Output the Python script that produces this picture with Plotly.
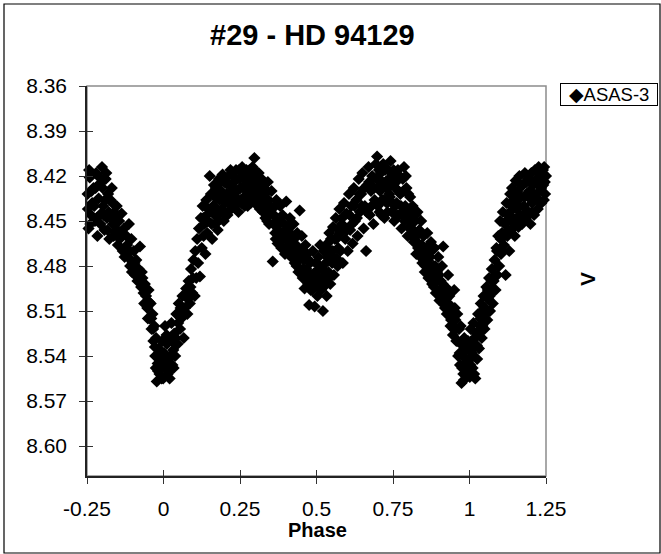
import plotly.graph_objects as go

# ---- data (phase, V magnitude) ----
phase = [
    -0.248, -0.245, -0.241, -0.237, -0.233, -0.229,
    -0.224, -0.220, -0.216, -0.212, -0.208, -0.204,
    -0.201, -0.197, -0.193, -0.189, -0.185, -0.181,
    -0.177, -0.173, -0.169, -0.165, -0.161, -0.157,
    -0.153, -0.149, -0.145, -0.141, -0.137, -0.133,
    -0.129, -0.125, -0.121, -0.117, -0.113, -0.109,
    -0.105, -0.101, -0.097, -0.093, -0.089, -0.085,
    -0.081, -0.077, -0.073, -0.069, -0.065, -0.061,
    -0.057, -0.053, -0.049, -0.045, -0.042, -0.039,
    -0.036, -0.033, -0.030, -0.027, -0.024, -0.022,
    -0.019, -0.016, -0.013, -0.010, -0.007, -0.004,
    -0.001, 0.002, 0.005, 0.008, 0.011, 0.014,
    0.017, 0.020, 0.023, 0.026, 0.029, 0.032,
    0.035, 0.038, 0.042, 0.046, 0.050, 0.054,
    0.058, 0.062, 0.066, 0.070, 0.074, 0.078,
    0.082, 0.086, 0.090, 0.094, 0.098, 0.102,
    0.104, 0.107, 0.110, 0.113, 0.116, 0.119,
    0.122, 0.125, 0.128, 0.131, 0.134, 0.137,
    0.140, 0.143, 0.147, 0.151, 0.155, 0.159,
    0.162, 0.165, 0.169, 0.173, 0.177, 0.181,
    0.185, 0.189, 0.193, 0.197, 0.201, 0.205,
    0.209, 0.213, 0.217, 0.221, 0.225, 0.229,
    0.233, 0.237, 0.241, 0.245, 0.249, 0.253,
    0.257, 0.261, 0.265, 0.269, 0.273, 0.277,
    0.281, 0.285, 0.289, 0.293, 0.297, 0.301,
    0.305, 0.309, 0.313, 0.317, 0.321, 0.325,
    0.329, 0.333, 0.337, 0.341, 0.345, 0.349,
    0.353, 0.357, 0.361, 0.365, 0.369, 0.373,
    0.377, 0.381, 0.385, 0.389, 0.393, 0.397,
    0.401, 0.405, 0.409, 0.413, 0.417, 0.421,
    0.425, 0.429, 0.433, 0.437, 0.441, 0.445,
    0.449, 0.452, 0.455, 0.458, 0.461, 0.464,
    0.467, 0.470, 0.473, 0.476, 0.479, 0.482,
    0.485, 0.488, 0.491, 0.494, 0.497, 0.500,
    0.503, 0.506, 0.509, 0.512, 0.515, 0.518,
    0.521, 0.524, 0.527, 0.530, 0.533, 0.536,
    0.539, 0.542, 0.545, 0.548, 0.551, 0.554,
    0.557, 0.560, 0.563, 0.566, 0.569, 0.572,
    0.575, 0.578, 0.582, 0.586, 0.590, 0.594,
    0.598, 0.602, 0.606, 0.610, 0.614, 0.618,
    0.622, 0.626, 0.630, 0.634, 0.638, 0.642,
    0.646, 0.650, 0.654, 0.658, 0.662, 0.666,
    0.670, 0.674, 0.678, 0.682, 0.686, 0.690,
    0.694, 0.698, 0.702, 0.706, 0.710, 0.714,
    0.718, 0.722, 0.726, 0.730, 0.734, 0.738,
    0.742, 0.746, 0.750, 0.754, 0.758, 0.762,
    0.766, 0.770, 0.774, 0.778, 0.782, 0.786,
    0.790, 0.794, 0.798, 0.802, 0.806, 0.810,
    0.814, 0.818, 0.822, 0.826, 0.830, 0.834,
    0.838, 0.842, 0.846, 0.850, 0.854, 0.858,
    0.862, 0.866, 0.870, 0.874, 0.878, 0.882,
    0.886, 0.890, 0.894, 0.898, 0.902, 0.906,
    0.910, 0.914, 0.918, 0.922, 0.926, 0.930,
    0.934, 0.938, 0.942, 0.946, 0.950, 0.954,
    0.957, 0.960, 0.963, 0.966, 0.969, 0.972,
    0.974, 0.977, 0.980, 0.983, 0.986, 0.989,
    0.992, 0.995, 0.998, 1.001, 1.004, 1.007,
    1.010, 1.013, 1.016, 1.019, 1.022, 1.025,
    1.028, 1.031, 1.034, 1.037, 1.040, 1.043,
    1.046, 1.049, 1.052, 1.055, 1.058, 1.061,
    1.064, 1.067, 1.070, 1.073, 1.076, 1.079,
    1.082, 1.085, 1.088, 1.091, 1.094, 1.097,
    1.100, 1.103, 1.106, 1.109, 1.112, 1.118,
    1.115, 1.121, 1.124, 1.127, 1.130, 1.133,
    1.136, 1.139, 1.142, 1.145, 1.148, 1.151,
    1.154, 1.157, 1.160, 1.163, 1.166, 1.169,
    1.172, 1.175, 1.178, 1.181, 1.184, 1.187,
    1.190, 1.193, 1.196, 1.199, 1.202, 1.205,
    1.208, 1.211, 1.214, 1.217, 1.220, 1.223,
    1.226, 1.229, 1.232, 1.235, 1.238, 1.241,
    1.244, 1.247, 1.250, 1.246,
]

v_mag = [
    8.432, 8.455, 8.421, 8.446, 8.438, 8.428,
    8.450, 8.418, 8.460, 8.435, 8.425, 8.445,
    8.414, 8.440, 8.456, 8.422, 8.448, 8.432,
    8.462, 8.436, 8.428, 8.452, 8.444, 8.458,
    8.440, 8.466, 8.450, 8.458, 8.445, 8.470,
    8.455, 8.468, 8.460, 8.474, 8.452, 8.480,
    8.462, 8.478, 8.470, 8.486, 8.476, 8.490,
    8.482, 8.467, 8.494, 8.488, 8.498, 8.492,
    8.500, 8.508, 8.496, 8.515, 8.505, 8.522,
    8.512, 8.530, 8.520, 8.540, 8.528, 8.557,
    8.545, 8.535, 8.552, 8.540, 8.548, 8.530,
    8.555, 8.538, 8.520, 8.548, 8.532, 8.552,
    8.542, 8.555, 8.528, 8.518, 8.546, 8.536,
    8.525, 8.540, 8.512, 8.532, 8.505, 8.522,
    8.515, 8.500, 8.528, 8.508, 8.495, 8.512,
    8.490, 8.505, 8.482, 8.498, 8.476, 8.500,
    8.470, 8.488, 8.462, 8.478, 8.455, 8.487,
    8.448, 8.468, 8.440, 8.460, 8.452, 8.472,
    8.436, 8.458, 8.445, 8.420, 8.432, 8.462,
    8.440, 8.426, 8.452, 8.435, 8.456, 8.422,
    8.445, 8.430, 8.419, 8.450, 8.438, 8.425,
    8.446, 8.420, 8.432, 8.442, 8.418, 8.428,
    8.440, 8.416, 8.430, 8.444, 8.422, 8.436,
    8.414, 8.428, 8.440, 8.420, 8.434, 8.424,
    8.416, 8.438, 8.428, 8.420, 8.408, 8.432,
    8.418, 8.440, 8.426, 8.434, 8.422, 8.444,
    8.428, 8.448, 8.436, 8.424, 8.452, 8.440,
    8.430, 8.477, 8.446, 8.458, 8.436, 8.465,
    8.452, 8.440, 8.468, 8.446, 8.460, 8.472,
    8.437, 8.455, 8.466, 8.448, 8.474, 8.460,
    8.452, 8.478, 8.466, 8.458, 8.484, 8.443,
    8.470, 8.460, 8.488, 8.476, 8.495, 8.466,
    8.482, 8.472, 8.492, 8.506, 8.478, 8.488,
    8.496, 8.470, 8.485, 8.507, 8.478, 8.492,
    8.500, 8.474, 8.488, 8.466, 8.496, 8.482,
    8.510, 8.470, 8.490, 8.478, 8.500, 8.465,
    8.484, 8.458, 8.492, 8.470, 8.478, 8.454,
    8.486, 8.462, 8.448, 8.475, 8.480, 8.456,
    8.442, 8.470, 8.452, 8.478, 8.438, 8.462,
    8.445, 8.470, 8.432, 8.456, 8.440, 8.465,
    8.428, 8.450, 8.436, 8.460, 8.422, 8.444,
    8.432, 8.418, 8.455, 8.440, 8.470, 8.426,
    8.414, 8.446, 8.430, 8.420, 8.452, 8.436,
    8.412, 8.407, 8.428, 8.444, 8.418, 8.436,
    8.412, 8.448, 8.424, 8.438, 8.416, 8.432,
    8.410, 8.444, 8.420, 8.450, 8.428, 8.438,
    8.416, 8.446, 8.432, 8.455, 8.422, 8.414,
    8.440, 8.428, 8.460, 8.448, 8.434, 8.456,
    8.440, 8.464, 8.450, 8.472, 8.444, 8.458,
    8.468, 8.450, 8.478, 8.460, 8.484, 8.470,
    8.458, 8.488, 8.474, 8.464, 8.492, 8.480,
    8.468, 8.498, 8.484, 8.474, 8.503, 8.490,
    8.480, 8.467, 8.506, 8.494, 8.512, 8.486,
    8.500, 8.520, 8.508, 8.526, 8.496, 8.516,
    8.530, 8.512, 8.540, 8.522, 8.546, 8.532,
    8.558, 8.540, 8.552, 8.528, 8.545, 8.536,
    8.550, 8.530, 8.542, 8.554, 8.522, 8.538,
    8.548, 8.518, 8.534, 8.555, 8.525, 8.542,
    8.512, 8.535, 8.520, 8.505, 8.528, 8.510,
    8.500, 8.522, 8.508, 8.494, 8.516, 8.502,
    8.488, 8.510, 8.496, 8.482, 8.505, 8.490,
    8.476, 8.496, 8.468, 8.486, 8.460, 8.480,
    8.450, 8.472, 8.458, 8.444, 8.466, 8.486,
    8.452, 8.438, 8.460, 8.446, 8.470, 8.432,
    8.456, 8.428, 8.448, 8.436, 8.460, 8.423,
    8.442, 8.430, 8.454, 8.420, 8.446, 8.434,
    8.452, 8.426, 8.440, 8.418, 8.448, 8.432,
    8.422, 8.444, 8.430, 8.452, 8.418, 8.438,
    8.426, 8.446, 8.416, 8.434, 8.422, 8.442,
    8.414, 8.430, 8.420, 8.438, 8.418, 8.426,
    8.414, 8.432, 8.420, 8.424,
]

# second batch of observations read from the denser parts of the cloud
phase_b = [
    -0.247, -0.243, -0.239, -0.235, -0.226, -0.222, -0.218, -0.214,
    -0.206, -0.199, -0.195, -0.191, -0.187, -0.183, -0.179, -0.171,
    -0.167, -0.163, -0.159, -0.151, -0.143, -0.135, -0.127, -0.119,
    -0.111, -0.103, -0.095, -0.087, -0.079, -0.071, -0.063, -0.059,
    -0.051, -0.047, -0.040, -0.034, -0.028, -0.025, -0.018, -0.012,
    -0.006, -0.003, 0.004, 0.010, 0.016, 0.022, 0.028, 0.033,
    0.040, 0.048, 0.056, 0.064, 0.072, 0.080, 0.088, 0.096,
    0.130, 0.136, 0.145, 0.153, 0.157, 0.163, 0.167, 0.171,
    0.175, 0.179, 0.183, 0.187, 0.191, 0.195, 0.199, 0.203,
    0.207, 0.211, 0.215, 0.219, 0.223, 0.227, 0.231, 0.235,
    0.239, 0.243, 0.247, 0.251, 0.255, 0.259, 0.263, 0.267,
    0.271, 0.275, 0.279, 0.283, 0.287, 0.291, 0.295, 0.299,
    0.303, 0.307, 0.311, 0.315, 0.319, 0.323, 0.327, 0.331,
    0.335, 0.339, 0.343, 0.347, 0.355, 0.359, 0.363, 0.367,
    0.371, 0.375, 0.379, 0.383, 0.387, 0.391, 0.395, 0.399,
    0.403, 0.407, 0.411, 0.415, 0.419, 0.423, 0.427, 0.431,
    0.435, 0.439, 0.443, 0.447, 0.451, 0.457, 0.463, 0.469,
    0.475, 0.481, 0.487, 0.493, 0.499, 0.505, 0.511, 0.517,
    0.523, 0.529, 0.535, 0.541, 0.547, 0.553, 0.559, 0.565,
    0.571, 0.577, 0.584, 0.592, 0.600, 0.608, 0.616, 0.624,
    0.632, 0.640, 0.648, 0.656, 0.664, 0.672, 0.680, 0.688,
    0.696, 0.700, 0.704, 0.708, 0.712, 0.716, 0.720, 0.724,
    0.728, 0.732, 0.736, 0.740, 0.744, 0.748, 0.752, 0.756,
    0.760, 0.764, 0.768, 0.772, 0.776, 0.780, 0.784, 0.788,
    0.792, 0.796, 0.800, 0.804, 0.808, 0.812, 0.816, 0.820,
    0.824, 0.828, 0.832, 0.836, 0.840, 0.844, 0.848, 0.852,
    0.856, 0.860, 0.864, 0.868, 0.872, 0.876, 0.880, 0.884,
    0.888, 0.892, 0.896, 0.900, 0.904, 0.908, 0.912, 0.916,
    0.920, 0.924, 0.928, 0.932, 0.936, 0.940, 0.944, 0.948,
    0.952, 0.956, 0.962, 0.968, 0.971, 0.976, 0.979, 0.982,
    0.985, 0.988, 0.994, 0.997, 1.000, 1.003, 1.006, 1.012,
    1.015, 1.018, 1.024, 1.030, 1.036, 1.042, 1.048, 1.054,
    1.060, 1.066, 1.072, 1.078, 1.084, 1.090, 1.096, 1.102,
    1.108, 1.114, 1.120, 1.126, 1.132, 1.138, 1.144, 1.150,
    1.156, 1.162, 1.168, 1.174, 1.180, 1.186, 1.192, 1.198,
    1.204, 1.210, 1.216, 1.222, 1.228, 1.234, 1.240, 1.243,
]

v_mag_b = [
    8.442, 8.416, 8.452, 8.430, 8.440, 8.428, 8.448, 8.420,
    8.452, 8.428, 8.446, 8.436, 8.418, 8.456, 8.444, 8.448,
    8.438, 8.460, 8.448, 8.456, 8.462, 8.458, 8.474, 8.466,
    8.470, 8.484, 8.478, 8.482, 8.490, 8.484, 8.505, 8.496,
    8.515, 8.504, 8.515, 8.522, 8.534, 8.548, 8.550, 8.545,
    8.555, 8.542, 8.545, 8.526, 8.550, 8.540, 8.530, 8.548,
    8.528, 8.518, 8.508, 8.512, 8.500, 8.502, 8.494, 8.488,
    8.448, 8.440, 8.450, 8.442, 8.452, 8.432, 8.446, 8.428,
    8.442, 8.450, 8.436, 8.424, 8.442, 8.432, 8.424, 8.446,
    8.432, 8.438, 8.426, 8.416, 8.436, 8.440, 8.424, 8.434,
    8.422, 8.438, 8.416, 8.428, 8.438, 8.420, 8.434, 8.426,
    8.416, 8.440, 8.430, 8.422, 8.434, 8.414, 8.426, 8.438,
    8.424, 8.430, 8.418, 8.442, 8.428, 8.436, 8.440, 8.432,
    8.442, 8.450, 8.436, 8.446, 8.442, 8.452, 8.440, 8.462,
    8.450, 8.456, 8.464, 8.450, 8.458, 8.468, 8.452, 8.462,
    8.470, 8.456, 8.462, 8.452, 8.468, 8.474, 8.462, 8.472,
    8.480, 8.468, 8.476, 8.482, 8.474, 8.482, 8.488, 8.484,
    8.476, 8.496, 8.488, 8.494, 8.484, 8.492, 8.480, 8.488,
    8.494, 8.484, 8.474, 8.488, 8.462, 8.470, 8.476, 8.462,
    8.468, 8.458, 8.448, 8.454, 8.456, 8.446, 8.452, 8.440,
    8.448, 8.432, 8.440, 8.428, 8.444, 8.424, 8.440, 8.428,
    8.422, 8.440, 8.416, 8.430, 8.446, 8.424, 8.436, 8.416,
    8.428, 8.444, 8.422, 8.434, 8.426, 8.438, 8.416, 8.440,
    8.424, 8.446, 8.430, 8.420, 8.440, 8.446, 8.430, 8.450,
    8.420, 8.442, 8.432, 8.454, 8.444, 8.450, 8.456, 8.462,
    8.446, 8.464, 8.468, 8.456, 8.474, 8.466, 8.470, 8.476,
    8.480, 8.468, 8.476, 8.484, 8.480, 8.470, 8.488, 8.494,
    8.480, 8.490, 8.498, 8.486, 8.496, 8.500, 8.492, 8.498,
    8.508, 8.502, 8.496, 8.510, 8.506, 8.516, 8.514, 8.522,
    8.508, 8.522, 8.530, 8.538, 8.520, 8.548, 8.532, 8.556,
    8.552, 8.546, 8.544, 8.552, 8.536, 8.546, 8.530, 8.540,
    8.552, 8.528, 8.533, 8.525, 8.515, 8.520, 8.508, 8.512,
    8.496, 8.500, 8.490, 8.496, 8.486, 8.470, 8.470, 8.462,
    8.470, 8.460, 8.450, 8.456, 8.444, 8.440, 8.452, 8.434,
    8.448, 8.440, 8.426, 8.446, 8.434, 8.424, 8.434, 8.422,
    8.444, 8.432, 8.424, 8.436, 8.422, 8.428, 8.416, 8.436,
]

x_ticks = [-0.25, 0, 0.25, 0.5, 0.75, 1, 1.25]
x_tick_labels = ["-0.25", "0", "0.25", "0.5", "0.75", "1", "1.25"]
y_ticks = [8.36, 8.39, 8.42, 8.45, 8.48, 8.51, 8.54, 8.57, 8.60]
y_tick_labels = ["8.36", "8.39", "8.42", "8.45", "8.48", "8.51", "8.54", "8.57", "8.60"]
x_range = [-0.25, 1.25]
y_range = [8.62, 8.36]

title_text = "#29 - HD 94129"
series_name = "ASAS-3"
x_title = "Phase"
y_title = "V"

FONT = "Liberation Sans, Arial, sans-serif"

all_phase = phase + phase_b
all_mag = v_mag + v_mag_b

fig = go.Figure()
fig.add_trace(go.Scatter(
    x=all_phase, y=all_mag, mode="markers", name=series_name,
    marker=dict(symbol="diamond", size=9.4, color="black", line=dict(width=0)),
    cliponaxis=False, showlegend=False,
))

W, H = 661, 554
L, R, T, B = 87, 115, 86, 78
pw, ph = W - L - R, H - T - B


def px_x(p):
    return (p - L) / pw


def px_y(p):
    return (H - B - p) / ph


axis_common = dict(showgrid=False, zeroline=False, ticklen=6, tickwidth=1,
                   tickcolor="#333333",
                   tickfont=dict(family=FONT, size=21, color="black"))

fig.update_layout(
    width=W, height=H,
    margin=dict(l=L, r=R, t=T, b=B, pad=0),
    paper_bgcolor="white", plot_bgcolor="white",
    xaxis=dict(range=x_range, tickvals=x_ticks, ticktext=x_tick_labels,
               ticks="outside", showline=True, linecolor="#222222", linewidth=1.5,
               ticklabelstandoff=7, **axis_common),
    yaxis=dict(range=y_range, tickvals=y_ticks, ticktext=y_tick_labels,
               ticks="outside", showline=True, linecolor="#222222", linewidth=1.5,
               ticklabelstandoff=8, **axis_common),
    xaxis2=dict(range=x_range, tickvals=x_ticks, ticks="inside", showticklabels=False,
                overlaying="x", anchor="y", side="bottom", showline=False,
                showgrid=False, zeroline=False, ticklen=6, tickwidth=1, tickcolor="#333333"),
    yaxis2=dict(range=y_range, tickvals=y_ticks, ticks="inside", showticklabels=False,
                overlaying="y", anchor="x", side="left", showline=False,
                showgrid=False, zeroline=False, ticklen=6, tickwidth=1, tickcolor="#333333"),
    showlegend=False,
)

# invisible trace to activate the overlay (cross-tick) axes
fig.add_trace(go.Scatter(x=[None], y=[None], xaxis="x2", yaxis="y2",
                         mode="markers", showlegend=False, hoverinfo="skip"))

shapes = [
    # gray plot-area border (top/right visible)
    dict(type="rect", xref="paper", yref="paper", x0=0, y0=0, x1=1, y1=1,
         line=dict(color="#8c8c8c", width=1.5), layer="below"),
    # outer chart frame
    dict(type="rect", xref="paper", yref="paper",
         x0=px_x(4), x1=px_x(660), y0=px_y(553), y1=px_y(4),
         line=dict(color="black", width=1.2), layer="below"),
]
fig.update_layout(shapes=shapes)

annotations = [
    dict(text="<b>%s</b>" % title_text, xref="paper", yref="paper",
         x=px_x(312), y=px_y(35), xanchor="center", yanchor="middle",
         showarrow=False, font=dict(family=FONT, size=29, color="black")),
    dict(text="<b>%s</b>" % x_title, xref="paper", yref="paper",
         x=px_x(317), y=px_y(530), xanchor="center", yanchor="middle",
         showarrow=False, font=dict(family=FONT, size=20, color="black")),
    dict(text="<b>%s</b>" % y_title, xref="paper", yref="paper",
         x=px_x(587), y=px_y(279), xanchor="center", yanchor="middle",
         textangle=-90, showarrow=False,
         font=dict(family=FONT, size=21, color="black")),
    dict(text="\u25c6" + series_name, xref="paper", yref="paper",
         x=px_x(560), y=px_y(94), xanchor="left", yanchor="middle",
         width=96, height=21, align="center", borderwidth=1, bordercolor="black",
         borderpad=0, bgcolor="white", showarrow=False,
         font=dict(family=FONT, size=18.5, color="black")),
]
fig.update_layout(annotations=annotations)

fig.write_html("out.html")
